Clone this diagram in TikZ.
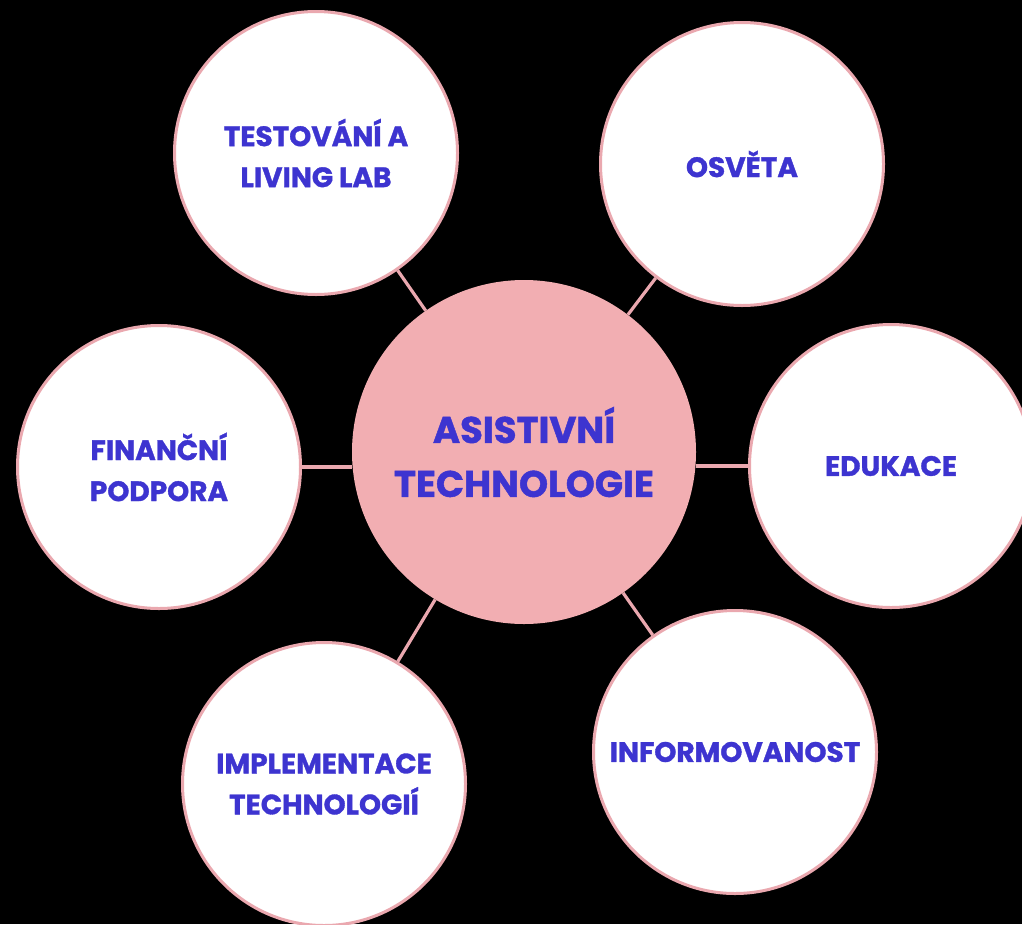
\documentclass[tikz,border=0pt]{standalone}
\usepackage{fontspec}
\setmainfont{Poppins}[BoldFeatures={FakeBold=1.2}]
\definecolor{hubpink}{RGB}{242,174,178}
\definecolor{rimpink}{RGB}{234,168,175}
\definecolor{labelblue}{RGB}{61,52,208}
\begin{document}
\begin{tikzpicture}[x=1pt,y=-1pt,
    hub/.style={circle,fill=hubpink,minimum size=344pt,inner sep=0pt,align=center,
      text=labelblue,font=\bfseries\fontsize{37}{54}\selectfont},
    topic/.style={circle,draw=rimpink,line width=3pt,fill=white,minimum size=283pt,
      inner sep=0pt,align=center,text=labelblue,font=\bfseries\fontsize{28}{41}\selectfont},
    link/.style={rimpink,line width=3.2pt}]
    \useasboundingbox (0,0) rectangle (1022,924);
    \fill[black] (0,0) rectangle (1022,924);
    %\draw[loosely dotted,white] (0,0) grid[step=100] (1022,924);
    \node[hub] (hub) at (524,452) {ASISTIVNÍ\\TECHNOLOGIE};
    \node[topic] (testing) at (316,153) {TESTOVÁNÍ A\\LIVING LAB};
    \node[topic] (awareness) at (742,164) {OSVĚTA};
    \node[topic] (funding) at (159,467) {FINANČNÍ\\PODPORA};
    \node[topic] (education) at (891,466) {EDUKACE};
    \node[topic] (deployment) at (324,784) {IMPLEMENTACE\\TECHNOLOGIÍ};
    \node[topic] (information) at (735,752) {INFORMOVANOST};
    \foreach \t in {testing,awareness,information,deployment}
    \draw[link] (hub) -- (\t);
    \draw[link] (funding.east) -- (funding.east -| hub.west);
    \draw[link] (education.west) -- (education.west -| hub.east);
    %\draw[link] (hub) -- (funding);
\end{tikzpicture}
\end{document}
